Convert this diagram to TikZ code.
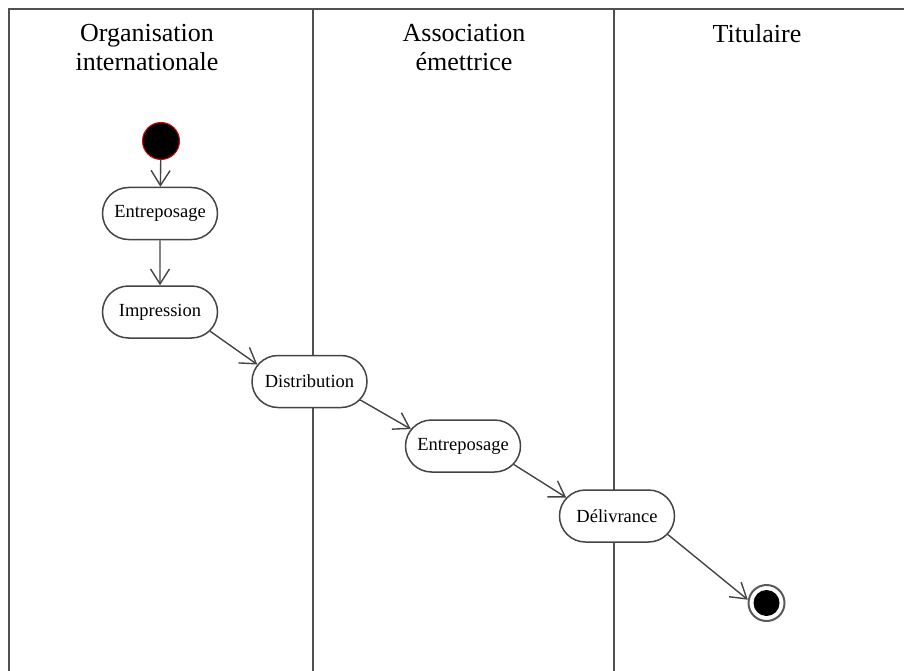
\documentclass[tikz,border=0pt]{standalone}
\usepackage{fontspec}
\setmainfont{Liberation Serif}
\usetikzlibrary{arrows.meta,shapes.misc}
\definecolor{lineclr}{HTML}{444444}
\definecolor{frameclr}{HTML}{505050}
\begin{document}
\begin{tikzpicture}[x=1pt,y=-1pt,
  lane/.style={draw=frameclr,line width=2pt},
  header/.style={align=center,font=\fontsize{26}{29}\selectfont},
  action/.style={rounded rectangle,draw=lineclr,line width=1.5pt,fill=white,
    minimum width=115pt,minimum height=52pt,inner sep=0pt,
    font=\fontsize{18.5}{22}\selectfont},
  flow/.style={draw=lineclr,line width=1.4pt,
    -{Straight Barb[length=15pt,width=19pt,line width=1.4pt]}},
  startnode/.style={circle,fill=black,draw=red!85!black,line width=1pt,
    minimum size=37pt,inner sep=0pt},
  endnode/.style={circle,draw=gray!70!black,line width=2pt,minimum size=36pt,
    inner sep=0pt,path picture={\fill[black] (path picture bounding box.center) circle (13pt);}}
]
\useasboundingbox (0,0) rectangle (904,671);
% swimlane frame
\draw[lane] (9,671) -- (9,9) -- (904,9);
\draw[lane] (313,9) -- (313,671);
\draw[lane] (614,9) -- (614,671);
% lane titles
\node[header,anchor=north] (h1) at (147,21) {Organisation\\internationale};
\node[header,anchor=north] (h2) at (464,21) {Association\\émettrice};
\node[header,anchor=north] (h3) at (757,21) {Titulaire};
% activity nodes
\node[startnode] (start) at (161,141) {};
\node[action] (e1) at (160,213.5) {Entreposage};
\node[action] (imp) at (160,312) {Impression};
\node[action] (dist) at (309.5,381.5) {Distribution};
\node[action] (e2) at (463,446) {Entreposage};
\node[action] (del) at (617,516) {Délivrance};
\node[endnode] (end) at (766.5,603) {};
% transitions
\draw[flow] (start) -- (e1);
\draw[flow] (e1) -- (imp);
\draw[flow] (imp.-21) -- (dist.162);
\draw[flow] (dist.-20) -- (e2.162);
\draw[flow] (e2.-20) -- (del.160);
\draw[flow] (del.-20) -- (end.170);
\end{tikzpicture}
\end{document}
